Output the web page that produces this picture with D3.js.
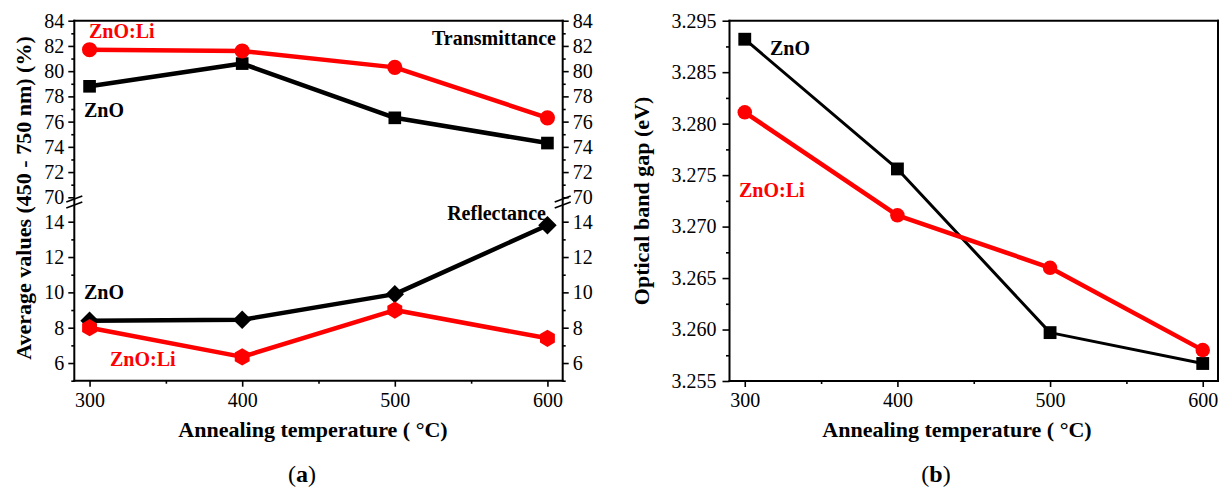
<!DOCTYPE html>
<html>
<head>
<meta charset="utf-8">
<script src="https://cdn.jsdelivr.net/npm/d3@7"></script>
<style>
  body { margin: 0; background: #fff; }
  svg text { font-family: "Liberation Serif", "Times New Roman", serif; }
</style>
</head>
<body>
<svg id="chart" width="1222" height="493"></svg>
<script>
// annealing temperatures (x) and tick values
const temps = [300, 400, 500, 600];
const tempTicks = [300, 400, 500, 600];
const tempMinor = [350, 450, 550];

// panel (a): average transmittance / reflectance (%)
const transZnO = [78.8, 80.6, 76.3, 74.3];
const transZnOLi = [81.7, 81.6, 80.3, 76.3];
const reflZnO = [8.4, 8.45, 9.9, 13.8];
const reflZnOLi = [8.0, 6.35, 9.0, 7.4];
const transTicks = [70, 72, 74, 76, 78, 80, 82, 84];
const transMinor = [71, 73, 75, 77, 79, 81, 83];
const reflTicks = [6, 8, 10, 12, 14];
const reflMinor = [5, 7, 9, 11, 13];

// panel (b): optical band gap (eV)
const gapZnO = [3.2882, 3.2756, 3.2597, 3.2567];
const gapZnOLi = [3.2811, 3.2711, 3.2660, 3.2580];
const gapTicks = [3.255, 3.260, 3.265, 3.270, 3.275, 3.280, 3.285, 3.290];
const gapTickLabels = ["3.255", "3.260", "3.265", "3.270", "3.275", "3.280", "3.285", "3.295"];
const gapMinor = [3.2575, 3.2625, 3.2675, 3.2725, 3.2775, 3.2825, 3.2875];

const RED = "#ff0000";

document.addEventListener("DOMContentLoaded", function () {
  const svg = d3.select("#chart");
  createPanelA(svg);
  createPanelB(svg);
});

// styles an axis group: hide domain, set tick stroke + font
function styleAxis(g, fontSize) {
  g.select(".domain").remove();
  g.selectAll(".tick line").attr("stroke", "#000").attr("stroke-width", 1.6);
  g.selectAll(".tick text").attr("fill", "#000").style("font-size", fontSize + "px")
    .style("font-family", '"Liberation Serif", "Times New Roman", serif');
}

function frame(g, x0, x1, y0, y1) {
  const lines = [[x0, y0, x1, y0], [x0, y1, x1, y1], [x0, y0, x0, y1], [x1, y0, x1, y1]];
  g.selectAll(null).data(lines).join("line")
    .attr("x1", d => d[0]).attr("y1", d => d[1])
    .attr("x2", d => d[2]).attr("y2", d => d[3])
    .attr("stroke", "#000").attr("stroke-width", 2).attr("stroke-linecap", "square");
}

function hexPath(r) {
  const pts = d3.range(6).map(i => {
    const a = Math.PI / 3 * i - Math.PI / 2;
    return [r * Math.cos(a), r * Math.sin(a)];
  });
  return "M" + pts.map(p => p.join(",")).join("L") + "Z";
}

function label(g, x, y, text, opts = {}) {
  return g.append("text")
    .attr("x", x).attr("y", y)
    .attr("text-anchor", opts.anchor || "start")
    .attr("fill", opts.color || "#000")
    .style("font-size", (opts.size || 20) + "px")
    .style("font-weight", opts.weight || "bold")
    .text(text);
}

function drawSeries(g, xs, ys, xScale, yScale, color, width, marker) {
  const pts = xs.map((t, i) => [xScale(t), yScale(ys[i])]);
  g.append("path")
    .attr("d", d3.line()(pts))
    .attr("fill", "none").attr("stroke", color)
    .attr("stroke-width", width).attr("stroke-linejoin", "round");
  g.selectAll(null).data(pts).join("path")
    .attr("transform", d => `translate(${d[0]},${d[1]})` + (marker.rotate ? " rotate(45)" : ""))
    .attr("d", marker.path)
    .attr("fill", color);
}

function createPanelA(svg) {
  const g = svg.append("g");
  const left = 74.3, right = 562.7, top = 20.7, bottom = 380.7;

  const x = d3.scaleLinear().domain([290, 610]).range([left, right]);
  const yTop = d3.scaleLinear().domain([70, 84]).range([197.3, top]);
  const yBot = d3.scaleLinear().domain([5, 14]).range([bottom, 221.7]);

  // bottom axis
  styleAxis(g.append("g").attr("transform", `translate(0,${bottom})`)
    .call(d3.axisBottom(x).tickValues(tempTicks).tickSize(6).tickPadding(6)), 20);
  styleAxis(g.append("g").attr("transform", `translate(0,${bottom})`)
    .call(d3.axisBottom(x).tickValues(tempMinor).tickSize(3).tickFormat("")), 20);

  // left + right axes, both segments
  [[left, d3.axisLeft], [right, d3.axisRight]].forEach(([xPos, axisFn]) => {
    [[yTop, transTicks, transMinor], [yBot, reflTicks, reflMinor]].forEach(([sc, maj, min]) => {
      styleAxis(g.append("g").attr("transform", `translate(${xPos},0)`)
        .call(axisFn(sc).tickValues(maj).tickSize(6).tickPadding(4)), 20);
      styleAxis(g.append("g").attr("transform", `translate(${xPos},0)`)
        .call(axisFn(sc).tickValues(min).tickSize(3).tickFormat("")), 20);
    });
  });

  frame(g, left, right, top, bottom);

  // axis break marks
  [left, right].forEach(xp => {
    [0, 6].forEach(off => {
      g.append("line")
        .attr("x1", xp - 8).attr("y1", 202 + off)
        .attr("x2", xp + 8).attr("y2", 196 + off)
        .attr("stroke", "#000").attr("stroke-width", 1.6);
    });
  });

  const square = { path: d3.symbol(d3.symbolSquare, 160)() };
  const circle = { path: d3.symbol(d3.symbolCircle, 180)() };
  const diamond = { path: d3.symbol(d3.symbolSquare, 170)(), rotate: true };
  const hexagon = { path: hexPath(8.6) };

  drawSeries(g, temps, transZnO, x, yTop, "#000", 4.5, square);
  drawSeries(g, temps, transZnOLi, x, yTop, RED, 4.5, circle);
  drawSeries(g, temps, reflZnO, x, yBot, "#000", 4.5, diamond);
  drawSeries(g, temps, reflZnOLi, x, yBot, RED, 4.5, hexagon);

  label(g, 89, 38, "ZnO:Li", { color: RED });
  label(g, 556, 45, "Transmittance", { anchor: "end" });
  label(g, 84, 117, "ZnO");
  label(g, 546, 220, "Reflectance", { anchor: "end" });
  label(g, 84, 299, "ZnO");
  label(g, 110, 366, "ZnO:Li", { color: RED });

  g.append("text")
    .attr("transform", "translate(31,198) rotate(-90)")
    .attr("text-anchor", "middle")
    .style("font-size", "22px").style("font-weight", "bold")
    .text("Average values (450 - 750 nm) (%)");

  label(g, 313, 437, "Annealing temperature ( °C)", { anchor: "middle", size: 22 });

  const cap = g.append("text").attr("x", 302).attr("y", 482)
    .attr("text-anchor", "middle").style("font-size", "24px");
  cap.append("tspan").text("(");
  cap.append("tspan").style("font-weight", "bold").text("a");
  cap.append("tspan").text(")");
}

function createPanelB(svg) {
  const g = svg.append("g");
  const left = 729.5, right = 1218, top = 20.7, bottom = 381;

  const x = d3.scaleLinear().domain([290, 610]).range([left, right]);
  const y = d3.scaleLinear().domain([3.255, 3.290]).range([bottom, top]);

  styleAxis(g.append("g").attr("transform", `translate(0,${bottom})`)
    .call(d3.axisBottom(x).tickValues(tempTicks).tickSize(6).tickPadding(6)), 20);
  styleAxis(g.append("g").attr("transform", `translate(0,${bottom})`)
    .call(d3.axisBottom(x).tickValues(tempMinor).tickSize(3).tickFormat("")), 20);

  styleAxis(g.append("g").attr("transform", `translate(${left},0)`)
    .call(d3.axisLeft(y).tickValues(gapTicks).tickSize(7).tickPadding(6)
      .tickFormat((d, i) => gapTickLabels[i])), 20);
  styleAxis(g.append("g").attr("transform", `translate(${left},0)`)
    .call(d3.axisLeft(y).tickValues(gapMinor).tickSize(3.5).tickFormat("")), 20);

  frame(g, left, right, top, bottom);

  const square = { path: d3.symbol(d3.symbolSquare, 165)() };
  const circle = { path: d3.symbol(d3.symbolCircle, 165)() };

  drawSeries(g, temps, gapZnO, x, y, "#000", 3, square);
  drawSeries(g, temps, gapZnOLi, x, y, RED, 4.5, circle);

  label(g, 770, 55, "ZnO");
  label(g, 739, 197, "ZnO:Li", { color: RED });

  g.append("text")
    .attr("transform", "translate(649,201) rotate(-90)")
    .attr("text-anchor", "middle")
    .style("font-size", "22px").style("font-weight", "bold")
    .text("Optical band gap (eV)");

  label(g, 957, 437, "Annealing temperature ( °C)", { anchor: "middle", size: 22 });

  const cap = g.append("text").attr("x", 936).attr("y", 482)
    .attr("text-anchor", "middle").style("font-size", "24px");
  cap.append("tspan").text("(");
  cap.append("tspan").style("font-weight", "bold").text("b");
  cap.append("tspan").text(")");
}
</script>
</body>
</html>
